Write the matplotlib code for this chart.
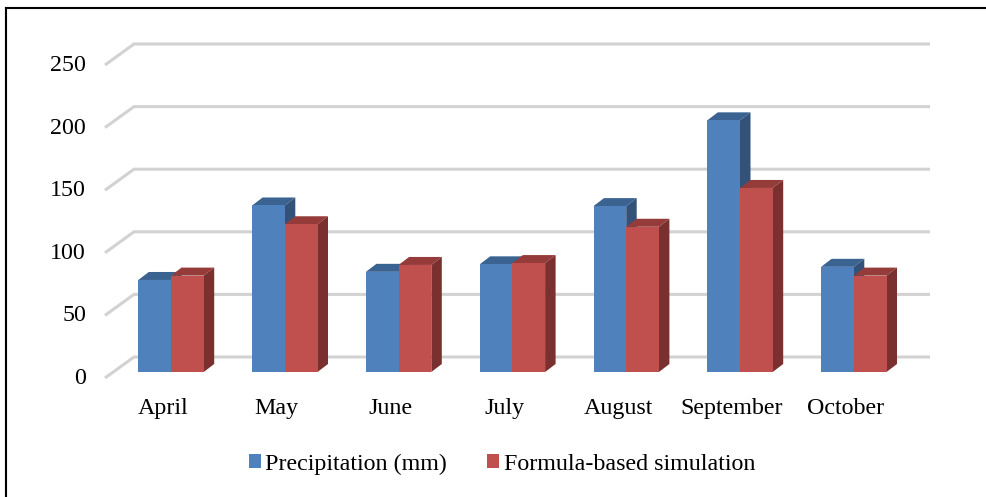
import matplotlib
matplotlib.use("Agg")
import matplotlib.pyplot as plt
from matplotlib.lines import Line2D
from matplotlib.patches import Polygon
from matplotlib.transforms import ScaledTranslation

months = ["April", "May", "June", "July", "August", "September", "October"]
precipitation = [73.5, 133, 80, 86, 132.5, 201, 84]
simulation = [77, 118, 85.5, 87, 116, 147, 77]
y_ticks = [0, 50, 100, 150, 200, 250]
series_names = ["Precipitation (mm)", "Formula-based simulation"]

W, H = 986, 497
BLUE, BLUE_TOP, BLUE_SIDE = "#4F81BD", "#3B6391", "#32527A"
RED, RED_TOP, RED_SIDE = "#C0504D", "#953B39", "#7A302E"
FONT = "Liberation Serif"

fig = plt.figure(figsize=(W / 100, H / 100), dpi=100, facecolor="white")
# axes: value 0 at pixel row 372, value 250 at pixel row 59
left_px, right_px, bottom_px, top_px = 105, 930, 372, 59
ax = fig.add_axes([left_px / W, 1 - bottom_px / H, (right_px - left_px) / W, (bottom_px - top_px) / H])
per_cat = 113.8
ax.set_xlim((left_px - 171) / per_cat, (right_px - 171) / per_cat)
ax.set_ylim(0, 250)
px_y = (bottom_px - top_px) / 250
bar_w = 32.7 / per_cat
dx, dy = 10.5 / per_cat, 8 / px_y
for s in ax.spines.values():
    s.set_visible(False)

# gridlines: floor-to-wall diagonal + back wall line
x0, x1 = ax.get_xlim()
wall_x = x0 + 29 / per_cat
front_off, back_off = -6 / px_y, 15 / px_y
for v in y_ticks:
    ax.plot([x0, wall_x, x1], [v + front_off, v + back_off, v + back_off],
            color="#D2D2D2", lw=2.2, clip_on=False, zorder=1,
            solid_joinstyle="miter", solid_capstyle="butt")

xs = range(len(months))
b1 = ax.bar([x - bar_w / 2 for x in xs], precipitation, bar_w, color=BLUE, zorder=3, label=series_names[0])
b2 = ax.bar([x + bar_w / 2 for x in xs], simulation, bar_w, color=RED, zorder=5, label=series_names[1])


def prism(x_left, v, top, side, z):
    xr = x_left + bar_w
    ax.add_patch(Polygon([(x_left, v), (xr, v), (xr + dx, v + dy), (x_left + dx, v + dy)],
                         closed=True, fc=top, ec="none", zorder=z, clip_on=False))
    ax.add_patch(Polygon([(xr, 0), (xr + dx, dy), (xr + dx, v + dy), (xr, v)],
                         closed=True, fc=side, ec="none", zorder=z, clip_on=False))


for x, p, s in zip(xs, precipitation, simulation):
    prism(x - bar_w, p, BLUE_TOP, BLUE_SIDE, 2)
    prism(x, s, RED_TOP, RED_SIDE, 4)

ax.set_yticks(y_ticks)
ax.set_xticks(list(xs))
ax.set_xticklabels(months)
ax.tick_params(length=0, labelsize=17.3, labelcolor="black", pad=0)
shift_y = ScaledTranslation(-19 / 100, -4 / 100, fig.dpi_scale_trans)
shift_x = ScaledTranslation(-8 / 100, -26 / 100, fig.dpi_scale_trans)
for lb in ax.get_yticklabels():
    lb.set_fontfamily(FONT)
    lb.set_transform(lb.get_transform() + shift_y)
for lb in ax.get_xticklabels():
    lb.set_fontfamily(FONT)
    lb.set_transform(lb.get_transform() + shift_x)

ax.legend(handles=[b1, b2], loc="center", bbox_to_anchor=(502 / W, 1 - 464 / H), bbox_transform=fig.transFigure,
          ncol=2, frameon=False, prop={"family": FONT, "size": 17.3},
          handlelength=0.5, handleheight=0.5, handletextpad=0.2, columnspacing=1.66, borderpad=0)

# frame: only the top and left edges exist in the picture
fig.add_artist(Line2D([4.5 / W, 4.5 / W], [0, 1 - 8 / H], transform=fig.transFigure, color="#C4C4C4", lw=0.8))
fig.add_artist(Line2D([6 / W, 6 / W], [0, 1 - 8 / H], transform=fig.transFigure, color="black", lw=1.5,
                      solid_capstyle="projecting"))
fig.add_artist(Line2D([6 / W, 1], [1 - 8 / H, 1 - 8 / H], transform=fig.transFigure, color="black", lw=1.5))
fig.savefig("out.png", dpi=100)
